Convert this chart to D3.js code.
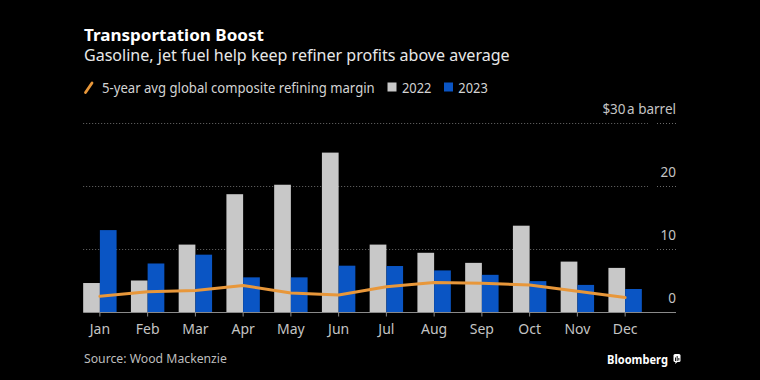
<!DOCTYPE html>
<html>
<head>
<meta charset="utf-8">
<script src="https://cdn.jsdelivr.net/npm/d3@7"></script>
<style>
  html, body { margin: 0; padding: 0; background: #000; }
  svg { display: block; font-family: "Noto Sans", "Open Sans", sans-serif; }
</style>
</head>
<body>
<svg id="chart" width="760" height="380"></svg>
<script>
const months = ["Jan","Feb","Mar","Apr","May","Jun","Jul","Aug","Sep","Oct","Nov","Dec"];
const values2022 = [4.6, 5.0, 10.7, 18.7, 20.2, 25.3, 10.7, 9.4, 7.8, 13.7, 8.0, 7.0];
const values2023 = [13.0, 7.7, 9.1, 5.5, 5.5, 7.35, 7.3, 6.6, 5.9, 4.9, 4.3, 3.65];
const avg5yr = [2.5, 3.2, 3.4, 4.2, 3.0, 2.7, 4.0, 4.7, 4.55, 4.3, 3.3, 2.3];
const yTicks = [0, 10, 20, 30];
const yTickLabels = ["0", "10", "20", "$30"];

const svg = d3.select("#chart");
svg.append("rect").attr("width", 760).attr("height", 380).attr("fill", "#000");

const x = d3.scaleBand().domain(months).range([76, 649]).paddingInner(0.3).paddingOuter(0.15);
const y = d3.scaleLinear().domain([0, 30]).range([312, 123]);
const bw = x.bandwidth() / 2;

// text fitted horizontally to a target width (narrow font look)
function fitText(parent, tx, ty, target, str, attrs) {
  const g = parent.append("g");
  const t = g.append("text").attr("x", 0).attr("y", 0).text(str);
  Object.entries(attrs).forEach(([k, v]) => t.attr(k, v));
  const w = t.node().getComputedTextLength();
  const s = w > 0 ? target / w : 1;
  g.attr("transform", `translate(${tx},${ty}) scale(${s},1)`);
  return t;
}

// Title block
fitText(svg, 84, 40.5, 180, "Transportation Boost",
  {"fill": "#ffffff", "font-size": 16.5, "font-weight": "bold"});
fitText(svg, 84, 60.5, 426, "Gasoline, jet fuel help keep refiner profits above average",
  {"fill": "#e8e8e8", "font-size": 16});

// Legend
const lg = svg.append("g");
lg.append("line").attr("x1", 85.5).attr("y1", 92.5).attr("x2", 92).attr("y2", 83)
  .attr("stroke", "#e8973a").attr("stroke-width", 2.8).attr("stroke-linecap", "round");
fitText(lg, 102, 93, 273, "5-year avg global composite refining margin",
  {"fill": "#d4d4d4", "font-size": 15});
lg.append("rect").attr("x", 387.5).attr("y", 82.5).attr("width", 9).attr("height", 9).attr("fill", "#c8c8c8");
fitText(lg, 402, 93, 29.5, "2022", {"fill": "#d4d4d4", "font-size": 15});
lg.append("rect").attr("x", 444).attr("y", 82.5).attr("width", 9).attr("height", 9).attr("fill", "#0a55c4");
fitText(lg, 458.3, 93, 29.5, "2023", {"fill": "#d4d4d4", "font-size": 15});

// Gridlines
const gridTicks = yTicks.filter(d => d > 0);
svg.append("g").selectAll("line.g1").data(gridTicks).join("line")
  .attr("x1", x(months[0])).attr("x2", 648)
  .attr("y1", d => Math.round(y(d)) + 0.5).attr("y2", d => Math.round(y(d)) + 0.5)
  .attr("stroke", "#6a6a6a").attr("stroke-width", 1).attr("stroke-dasharray", "1,2");
svg.append("g").selectAll("line.g2").data(gridTicks).join("line")
  .attr("x1", 657).attr("x2", 676)
  .attr("y1", d => Math.round(y(d)) + 0.5).attr("y2", d => Math.round(y(d)) + 0.5)
  .attr("stroke", "#6a6a6a").attr("stroke-width", 1).attr("stroke-dasharray", "1,2");

// Y labels
const yl = svg.append("g").attr("font-size", 13.5).attr("fill", "#c4c4c4").attr("text-anchor", "end");
yTicks.forEach((t, i) => {
  const tx = yl.append("text").attr("x", 676).attr("y", y(t) - 9);
  if (t === 30) {
    tx.append("tspan").text(yTickLabels[i]);
    tx.append("tspan").attr("dx", 1.5).text("a barrel");
  } else {
    tx.text(yTickLabels[i]);
  }
});

// Bars
svg.append("g").selectAll("rect").data(months).join("rect")
  .attr("x", d => x(d)).attr("width", bw)
  .attr("y", (d, i) => y(values2022[i])).attr("height", (d, i) => y(0) - y(values2022[i]))
  .attr("fill", "#c8c8c8");
svg.append("g").selectAll("rect").data(months).join("rect")
  .attr("x", d => x(d) + bw).attr("width", bw)
  .attr("y", (d, i) => y(values2023[i])).attr("height", (d, i) => y(0) - y(values2023[i]))
  .attr("fill", "#0a55c4");

// Baseline axis
svg.append("line").attr("x1", x(months[0])).attr("x2", 676)
  .attr("y1", y(0) + 0.5).attr("y2", y(0) + 0.5).attr("stroke", "#8a8a8a").attr("stroke-width", 1);

// X axis ticks & labels
const xa = svg.append("g").attr("transform", `translate(0,${y(0) + 0.5})`)
  .call(d3.axisBottom(x).tickSize(4).tickPadding(8).tickSizeOuter(0));
xa.select(".domain").remove();
xa.selectAll(".tick line").attr("stroke", "#8a8a8a");
xa.selectAll(".tick text").attr("fill", "#c4c4c4").attr("font-size", 14)
  .attr("font-family", "\"Noto Sans\", sans-serif");

// 5-year avg line
const line = d3.line().x((d, i) => x(months[i]) + x.bandwidth() / 2).y(d => y(d));
svg.append("path").datum(avg5yr).attr("d", line)
  .attr("fill", "none").attr("stroke", "#e8973a").attr("stroke-width", 3)
  .attr("stroke-linejoin", "round").attr("stroke-linecap", "round");

// Footer
fitText(svg, 84, 363, 143, "Source: Wood Mackenzie", {"fill": "#bdbdbd", "font-size": 13.5});
fitText(svg, 607, 364, 61, "Bloomberg", {"fill": "#ffffff", "font-size": 13, "font-weight": "bold"});
const logo = svg.append("g").attr("transform", "translate(673.5,354)");
logo.append("rect").attr("width", 7).attr("height", 8).attr("rx", 1.5).attr("fill", "#ffffff");
logo.append("path").attr("d", "M2,8 L1.5,10 L4,8 Z").attr("fill", "#ffffff");
[1.5, 3.2, 4.9].forEach((bx, i) => {
  logo.append("rect").attr("x", bx).attr("y", [3.5, 2, 4][i]).attr("width", 0.9)
    .attr("height", [3.5, 5, 2.5][i]).attr("fill", "#000");
});
</script>
</body>
</html>
